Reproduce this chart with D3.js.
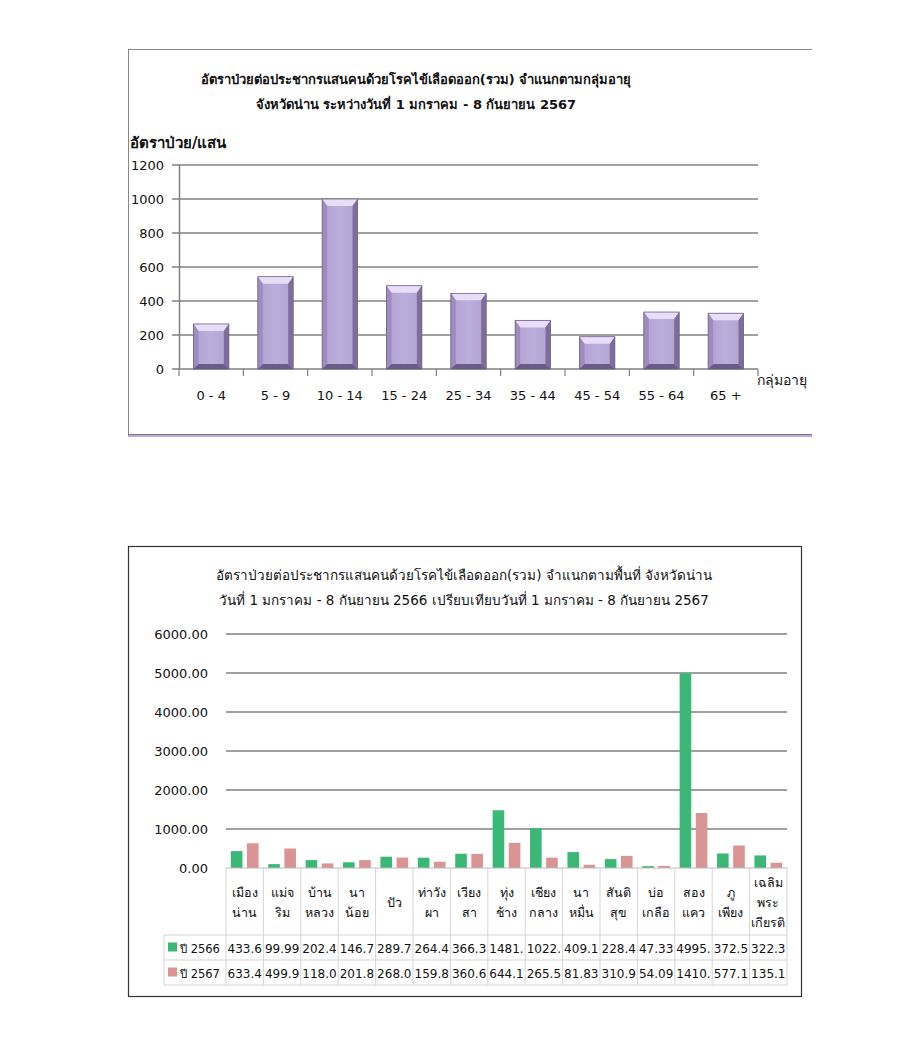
<!DOCTYPE html>
<html>
<head>
<meta charset="utf-8">
<script src="https://cdn.jsdelivr.net/npm/d3@7"></script>
<style>
  body { margin: 0; background: #fff; }
  text { font-family: "DejaVu Sans", Tahoma, sans-serif; fill: #111; }
</style>
</head>
<body>
<div id="app"></div>
<script>
// ---- data: chart 1 (age groups) ----
const ageGroups = ["0 - 4", "5 - 9", "10 - 14", "15 - 24", "25 - 34", "35 - 44", "45 - 54", "55 - 64", "65 +"];
const ageRates = [265, 543, 1000, 490, 445, 286, 190, 335, 328];
const ageTicks = [0, 200, 400, 600, 800, 1000, 1200];

// ---- data: chart 2 (districts) ----
const districts = [
  ["เมือง", "น่าน"], ["แม่จ", "ริม"], ["บ้าน", "หลวง"], ["นา", "น้อย"], ["ปัว"],
  ["ท่าวัง", "ผา"], ["เวียง", "สา"], ["ทุ่ง", "ช้าง"], ["เชียง", "กลาง"], ["นา", "หมื่น"],
  ["สันติ", "สุข"], ["บ่อ", "เกลือ"], ["สอง", "แคว"], ["ภู", "เพียง"], ["เฉลิม", "พระ", "เกียรติ"]
];
const rate2566 = [433.6, 99.99, 202.4, 146.7, 289.7, 264.4, 366.3, 1481, 1022, 409.1, 228.4, 47.33, 4995, 372.5, 322.3];
const rate2567 = [633.4, 499.9, 118.0, 201.8, 268.0, 159.8, 360.6, 644.1, 265.5, 81.83, 310.9, 54.09, 1410, 577.1, 135.1];
const seriesNames = ["ปี 2566", "ปี 2567"];
const seriesColors = ["#3bb876", "#d99493"];
const districtTicks = [0, 1000, 2000, 3000, 4000, 5000, 6000];

const svg = d3.select("#app").append("svg")
  .attr("width", 900)
  .attr("height", 1056);

// ================= chart 1 =================
const c1 = svg.append("g");
// frame
c1.append("line").attr("x1", 128).attr("x2", 812).attr("y1", 49.5).attr("y2", 49.5).attr("stroke", "#888");
c1.append("line").attr("x1", 128.5).attr("x2", 128.5).attr("y1", 49).attr("y2", 436).attr("stroke", "#888");
c1.append("line").attr("x1", 128).attr("x2", 812).attr("y1", 434.5).attr("y2", 434.5).attr("stroke", "#777");
c1.append("line").attr("x1", 128).attr("x2", 812).attr("y1", 436).attr("y2", 436).attr("stroke", "#a98be0").attr("stroke-width", 1.5);

c1.append("text").attr("x", 416).attr("y", 84).attr("text-anchor", "middle")
  .style("font-size", "13px").style("font-weight", "bold")
  .text("อัตราป่วยต่อประชากรแสนคนด้วยโรคไข้เลือดออก(รวม) จำแนกตามกลุ่มอายุ");
c1.append("text").attr("x", 416).attr("y", 109).attr("text-anchor", "middle")
  .style("font-size", "13px").style("font-weight", "bold")
  .text("จังหวัดน่าน ระหว่างวันที่ 1 มกราคม - 8 กันยายน 2567");
c1.append("text").attr("x", 130).attr("y", 148)
  .style("font-size", "15px").style("font-weight", "bold")
  .text("อัตราป่วย/แสน");

const x1 = d3.scaleBand().domain(ageGroups).range([179, 758]).paddingInner(0.45).paddingOuter(0.225);
const y1 = d3.scaleLinear().domain([0, 1200]).range([369, 165]);

// gridlines
c1.append("g").selectAll("line").data(ageTicks).join("line")
  .attr("x1", 172).attr("x2", 758)
  .attr("y1", d => y1(d)).attr("y2", d => y1(d))
  .attr("stroke", "#808080").attr("stroke-width", 1.5);
c1.append("line").attr("x1", 179.5).attr("x2", 179.5).attr("y1", 165).attr("y2", 369).attr("stroke", "#808080").attr("stroke-width", 1.5);

// x tick marks at band edges
const step1 = x1.step();
c1.append("g").selectAll("line").data(d3.range(ageGroups.length + 1)).join("line")
  .attr("x1", i => 179 + i * step1).attr("x2", i => 179 + i * step1)
  .attr("y1", 369).attr("y2", 376)
  .attr("stroke", "#808080").attr("stroke-width", 1.2);

c1.append("g").selectAll("text").data(ageTicks).join("text")
  .attr("x", 164).attr("y", d => y1(d) + 5).attr("text-anchor", "end")
  .style("font-size", "13px").text(d => d);

c1.append("g").selectAll("text").data(ageGroups).join("text")
  .attr("x", d => x1(d) + x1.bandwidth() / 2).attr("y", 400).attr("text-anchor", "middle")
  .style("font-size", "13px").text(d => d);

c1.append("text").attr("x", 757).attr("y", 385).style("font-size", "14px").text("กลุ่มอายุ");

// beveled bars
const defs = svg.append("defs");
const gBody = defs.append("linearGradient").attr("id", "barBody").attr("x1", 0).attr("x2", 1);
gBody.append("stop").attr("offset", "0%").attr("stop-color", "#b2a1d2");
gBody.append("stop").attr("offset", "50%").attr("stop-color", "#bcaddb");
gBody.append("stop").attr("offset", "100%").attr("stop-color", "#b2a1d2");

const bev = 5;
const bars1 = c1.append("g").selectAll("g").data(ageGroups).join("g");
bars1.each(function (d, i) {
  const g = d3.select(this);
  const x0 = x1(d), w = x1.bandwidth(), yt = y1(ageRates[i]), yb = y1(0);
  g.append("rect").attr("x", x0).attr("y", yt).attr("width", w).attr("height", yb - yt).attr("fill", "url(#barBody)");
  // top bevel
  g.append("polygon").attr("points", [[x0, yt], [x0 + w, yt], [x0 + w - bev, yt + bev + 2], [x0 + bev, yt + bev + 2]].join(" "))
    .attr("fill", "#e9def8");
  // left bevel
  g.append("polygon").attr("points", [[x0, yt], [x0 + bev, yt + bev + 2], [x0 + bev, yb - bev], [x0, yb]].join(" "))
    .attr("fill", "#9d8cbd");
  // right bevel
  g.append("polygon").attr("points", [[x0 + w, yt], [x0 + w - bev, yt + bev + 2], [x0 + w - bev, yb - bev], [x0 + w, yb]].join(" "))
    .attr("fill", "#7d6d9b");
  // bottom bevel
  g.append("polygon").attr("points", [[x0, yb], [x0 + bev, yb - bev], [x0 + w - bev, yb - bev], [x0 + w, yb]].join(" "))
    .attr("fill", "#6a5c84");
  g.append("rect").attr("x", x0).attr("y", yt).attr("width", w).attr("height", yb - yt)
    .attr("fill", "none").attr("stroke", "#6d5f88").attr("stroke-width", 0.8);
});

// ================= chart 2 =================
const c2 = svg.append("g");
c2.append("rect").attr("x", 128.5).attr("y", 546.5).attr("width", 673).attr("height", 450)
  .attr("fill", "none").attr("stroke", "#333").attr("stroke-width", 1.2);

c2.append("text").attr("x", 464).attr("y", 580).attr("text-anchor", "middle")
  .style("font-size", "13.5px").text("อัตราป่วยต่อประชากรแสนคนด้วยโรคไข้เลือดออก(รวม) จำแนกตามพื้นที่ จังหวัดน่าน");
c2.append("text").attr("x", 464).attr("y", 605).attr("text-anchor", "middle")
  .style("font-size", "13.5px").text("วันที่ 1 มกราคม - 8 กันยายน 2566 เปรียบเทียบวันที่ 1 มกราคม - 8 กันยายน 2567");

const names = districts.map(d => d.join(""));
const x2 = d3.scaleBand().domain(names).range([226, 787]);
const xs = d3.scaleBand().domain([0, 1]).range([0, x2.bandwidth()]).paddingInner(0.28).paddingOuter(0.3);
const y2 = d3.scaleLinear().domain([0, 6000]).range([868, 634]);

c2.append("g").selectAll("line").data(districtTicks.filter(d => d > 0)).join("line")
  .attr("x1", 226).attr("x2", 787)
  .attr("y1", d => y2(d)).attr("y2", d => y2(d))
  .attr("stroke", "#808080").attr("stroke-width", 1.5);

c2.append("g").selectAll("text").data(districtTicks).join("text")
  .attr("x", 208).attr("y", d => y2(d) + 5).attr("text-anchor", "end")
  .style("font-size", "13px").text(d3.format(".2f"));

const series = [rate2566, rate2567];
series.forEach((vals, s) => {
  c2.append("g").selectAll("rect").data(names).join("rect")
    .attr("x", (d) => x2(d) + xs(s))
    .attr("width", xs.bandwidth())
    .attr("y", (d, i) => y2(vals[i]))
    .attr("height", (d, i) => y2(0) - y2(vals[i]))
    .attr("fill", seriesColors[s]);
});

// data table
const tblTop = 868, hdrBot = 935, rowH = 25, legL = 164;
const grid = "#d4d4d4";
const tg = c2.append("g");
// horizontal lines
tg.append("line").attr("x1", 226).attr("x2", 787).attr("y1", tblTop).attr("y2", tblTop).attr("stroke", "#bbb");
[hdrBot, hdrBot + rowH, hdrBot + 2 * rowH].forEach(y => {
  tg.append("line").attr("x1", legL).attr("x2", 787).attr("y1", y).attr("y2", y).attr("stroke", grid);
});
// vertical lines
tg.selectAll("line.v").data(d3.range(names.length + 1)).join("line").attr("class", "v")
  .attr("x1", i => 226 + i * x2.step()).attr("x2", i => 226 + i * x2.step())
  .attr("y1", tblTop).attr("y2", hdrBot + 2 * rowH).attr("stroke", grid);
tg.append("line").attr("x1", legL).attr("x2", legL).attr("y1", hdrBot).attr("y2", hdrBot + 2 * rowH).attr("stroke", grid);

// header names
names.forEach((n, i) => {
  const lines = districts[i];
  const cx = x2(n) + x2.bandwidth() / 2;
  const midY = (tblTop + hdrBot) / 2 + 5;
  lines.forEach((t, j) => {
    tg.append("text").attr("x", cx).attr("y", midY + (j - (lines.length - 1) / 2) * 20)
      .attr("text-anchor", "middle").style("font-size", "12.5px").text(t);
  });
});

// data rows
const cellText = v => d3.format(".2f")(v).slice(0, 5);
series.forEach((vals, s) => {
  const yc = hdrBot + rowH * s + rowH / 2 + 5;
  tg.append("rect").attr("x", legL + 4).attr("y", yc - 10).attr("width", 9).attr("height", 9).attr("fill", seriesColors[s]);
  tg.append("text").attr("x", legL + 16).attr("y", yc).style("font-size", "11.5px").text(seriesNames[s]);
  tg.selectAll(null).data(names).join("text")
    .attr("x", d => x2(d) + x2.bandwidth() / 2).attr("y", yc)
    .attr("text-anchor", "middle").style("font-size", "12px")
    .text((d, i) => cellText(vals[i]));
});
</script>
</body>
</html>
